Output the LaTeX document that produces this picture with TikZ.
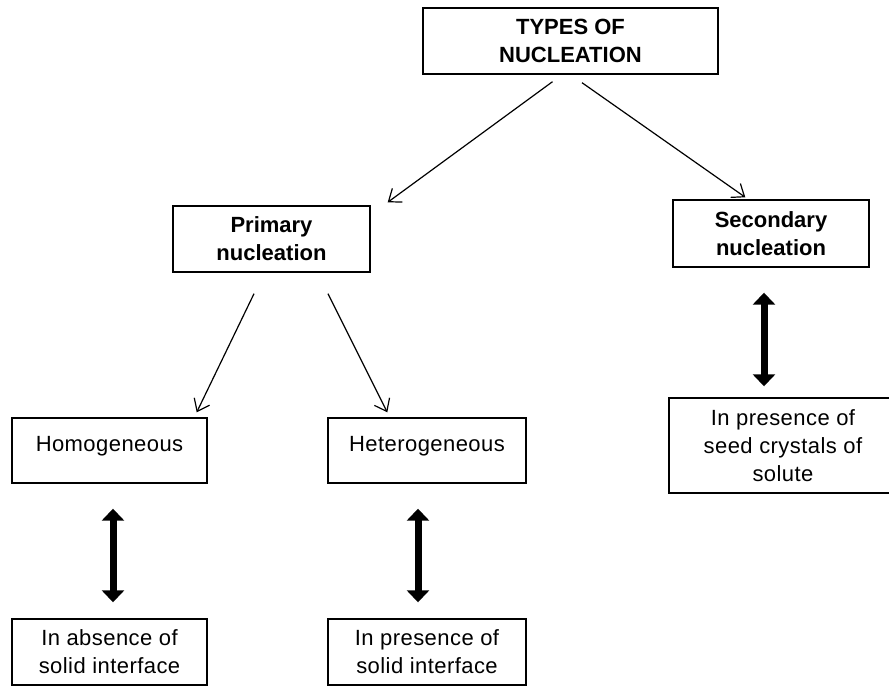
\documentclass[tikz,border=0pt]{standalone}
\usepackage{fontspec}
\setmainfont{Liberation Sans}[LetterSpace=2,BoldFeatures={LetterSpace=0}]
\usetikzlibrary{arrows.meta}
\tikzstyle{box} = [draw,rectangle,line width=1.4pt,inner sep=0pt,align=center]
\tikzstyle{arr} = [line width=1.2pt,-{Straight Barb[length=11pt,width=17pt,line width=1.2pt]}]
\tikzstyle{dbl} = [line width=7pt,{Triangle[length=12pt,width=22pt]}-{Triangle[length=12pt,width=22pt]}]

\begin{document}
\begin{tikzpicture}[x=1pt, y=-1pt,
        every node/.style={font=\fontsize{22}{28}\selectfont}]

        \useasboundingbox (0,0) rectangle (889,687);
        \clip (0,0) rectangle (889,687);

        \node[box,minimum width=295pt,minimum height=66pt,font=\fontsize{22}{28}\selectfont\bfseries] (T) at (570.5,41) {TYPES OF\\NUCLEATION};
        \node[box,minimum width=197pt,minimum height=66pt,font=\fontsize{22}{28}\selectfont\bfseries] (P) at (271.5,239) {Primary\\nucleation};
        \node[box,minimum width=196pt,minimum height=67pt,font=\fontsize{22}{28}\selectfont\bfseries] (S) at (771,233.5) {Secondary\\nucleation};
        \node[box,minimum width=195pt,minimum height=65pt,text height=16pt,text depth=14pt] (Ho) at (109.5,450.5) {Homogeneous};
        \node[box,minimum width=198pt,minimum height=65pt,text height=16pt,text depth=14pt] (He) at (427,450.5) {Heterogeneous};
        \node[box,minimum width=195pt,minimum height=66pt] (Ab) at (109.5,652) {In absence of\\solid interface};
        \node[box,minimum width=198pt,minimum height=66pt] (Pr) at (427,652) {In presence of\\solid interface};
        \node[box,minimum width=228pt,minimum height=95pt] (Sd) at (783,445.5) {In presence of\\seed crystals of\\solute};

        % thin edges
        \draw[arr] ([xshift=-18pt,yshift=-7pt]T.south) -- ([xshift=17pt,yshift=3pt]P.north east);
        \draw[arr] ([xshift=11.5pt,yshift=-8pt]T.south) -- ([xshift=73pt,yshift=2pt]S.north west);
        \draw[arr] ([xshift=-17.5pt,yshift=-21pt]P.south) -- ([xshift=-11pt,yshift=5pt]Ho.north east);
        \draw[arr] ([xshift=56.5pt,yshift=-21pt]P.south) -- ([xshift=60pt,yshift=5pt]He.north west);

        % double arrows
        \draw[dbl] ([xshift=3.5pt,yshift=-25pt]Ho.south) -- ([xshift=3.5pt,yshift=16pt]Ab.north);
        \draw[dbl] ([xshift=-9pt,yshift=-25pt]He.south) -- ([xshift=-9pt,yshift=16pt]Pr.north);
        \draw[dbl] ([xshift=-7pt,yshift=-25pt]S.south) -- ([xshift=-19pt,yshift=11pt]Sd.north);

      \end{tikzpicture}
\end{document}
